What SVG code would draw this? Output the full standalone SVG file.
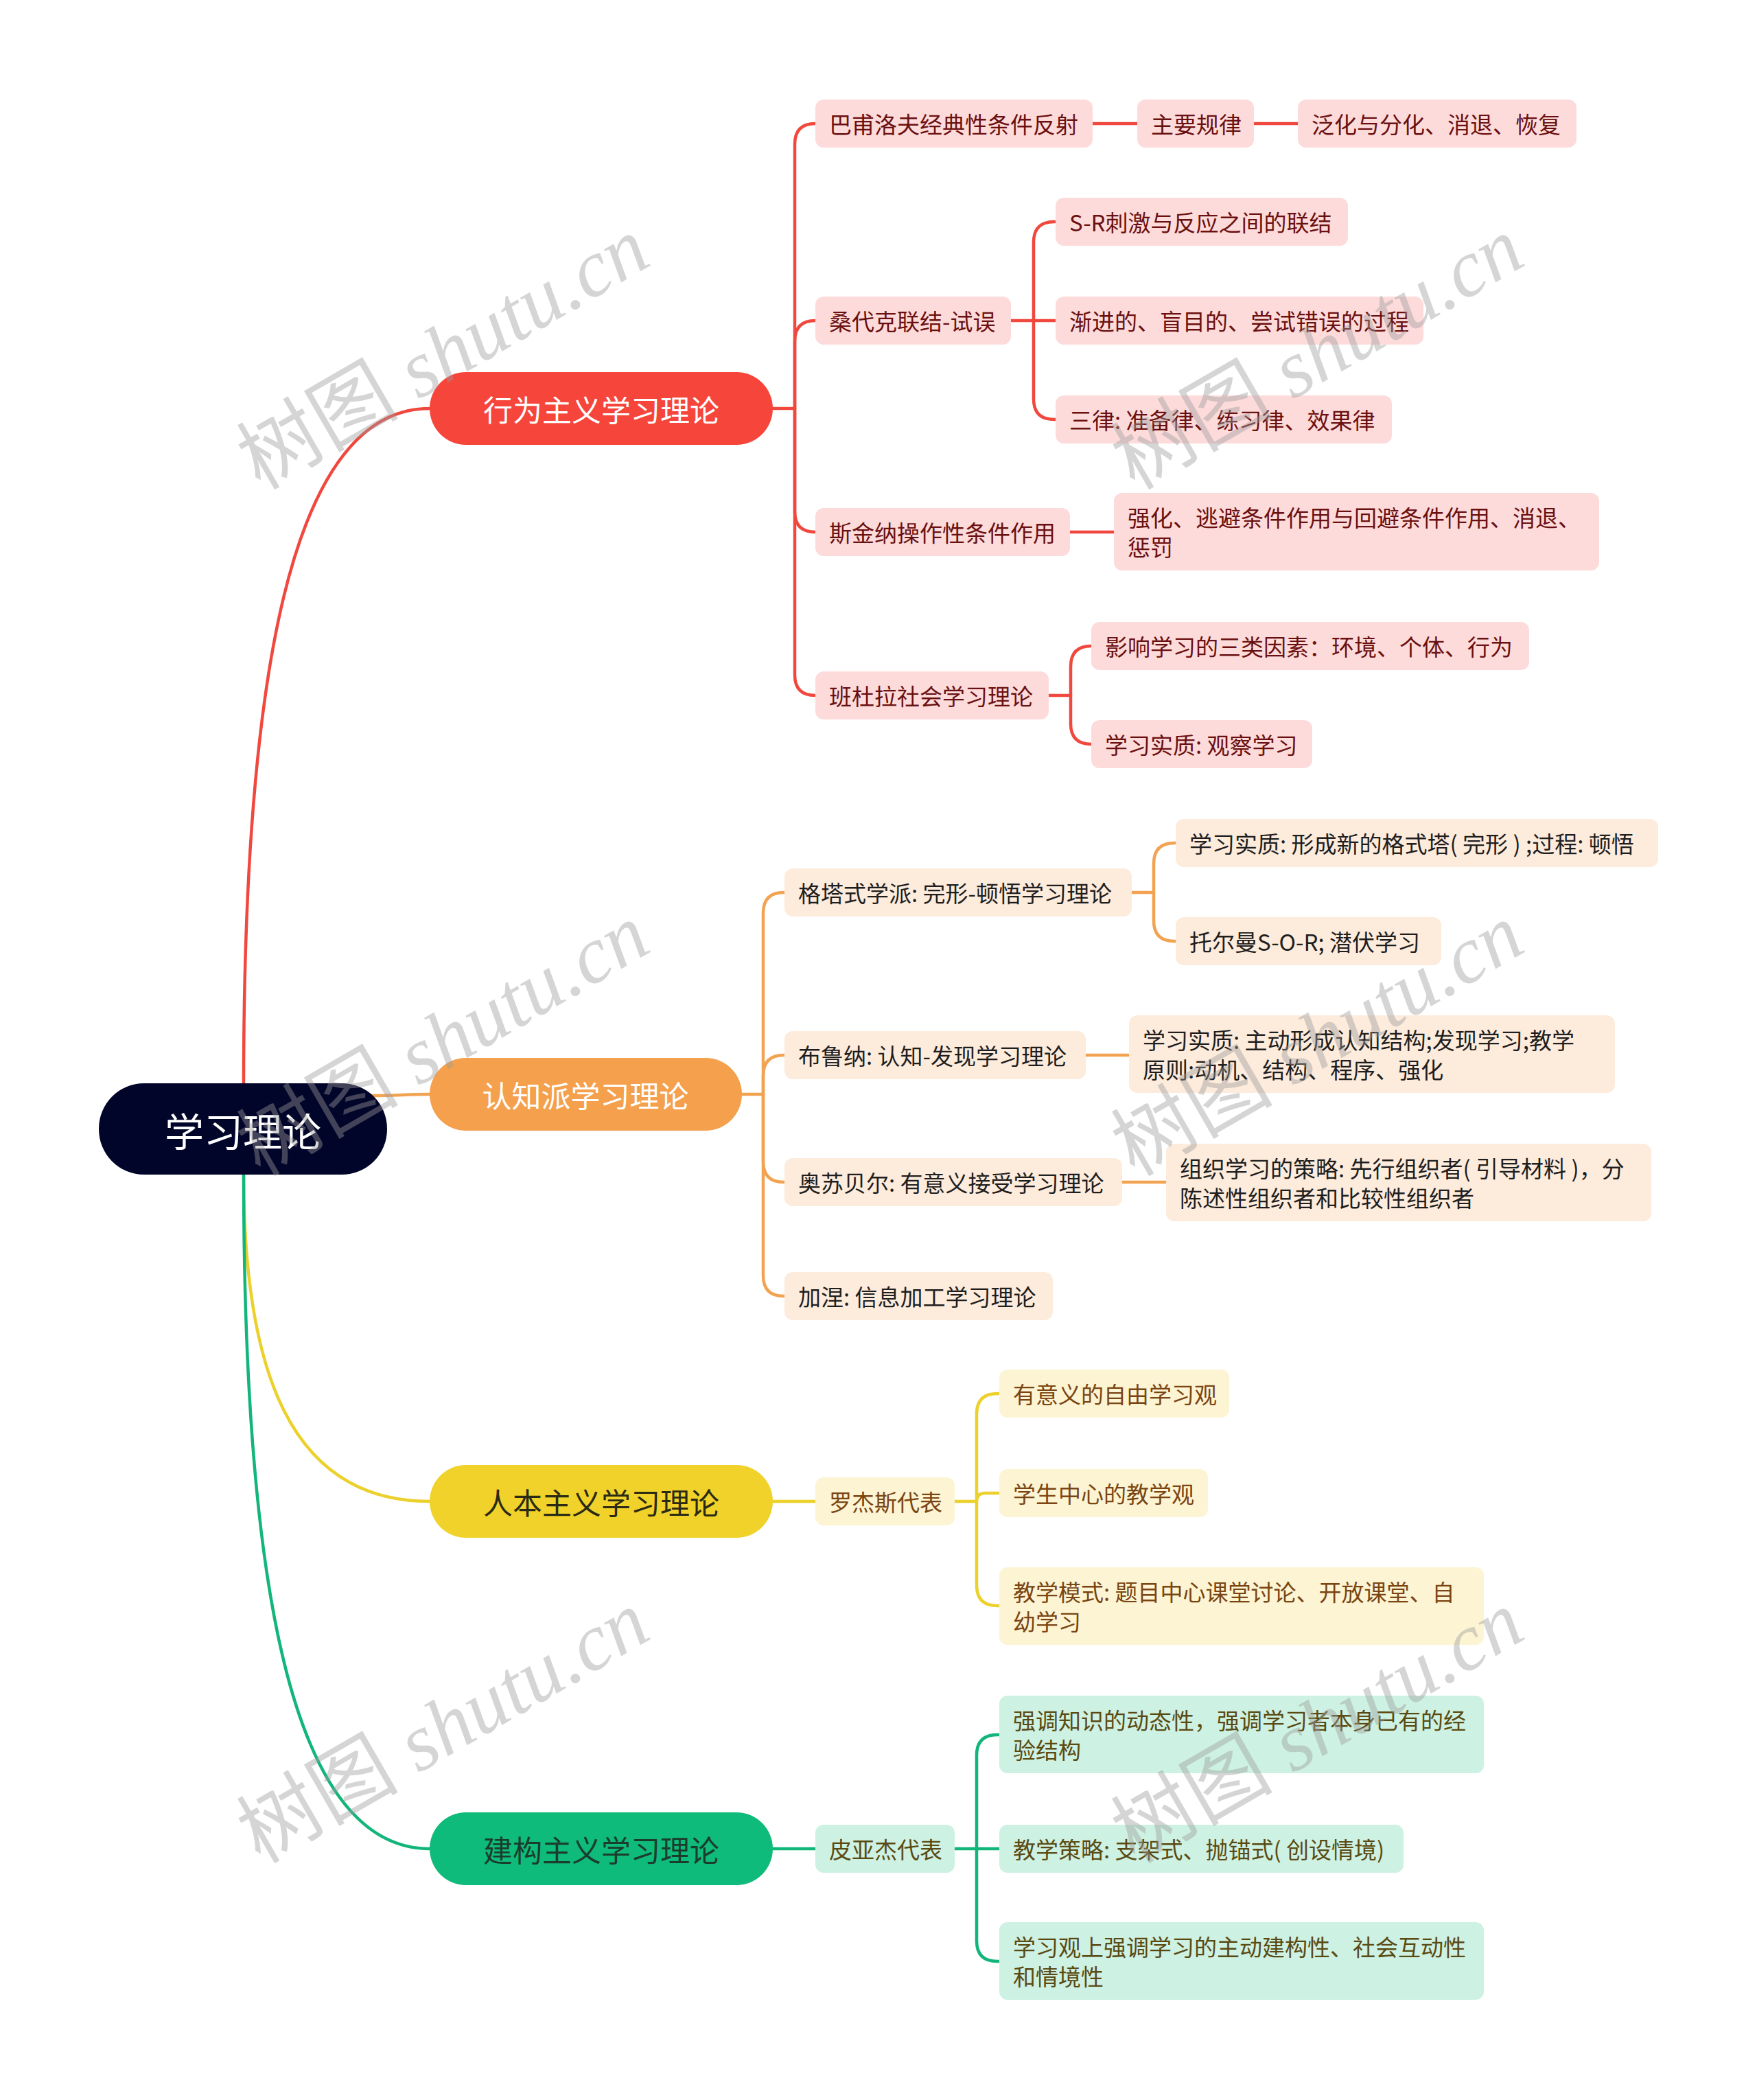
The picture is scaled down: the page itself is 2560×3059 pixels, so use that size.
<svg xmlns="http://www.w3.org/2000/svg" width="2560" height="3059" viewBox="0 0 2560 3059">
<style>
  text { font-family: "Noto Sans CJK SC", "Noto Sans", sans-serif; }
  .c { fill: none; stroke-width: 4.5; stroke-linecap: round; stroke-linejoin: round; }
  .red { stroke: #f0483e; }
  .org { stroke: #f2a352; }
  .yel { stroke: #ecd02c; }
  .grn { stroke: #12b57a; }
  .l2 { font-size: 33px; dominant-baseline: central; }
  .br { font-size: 43px; dominant-baseline: central; text-anchor: middle; }
  .rf { fill: #fddbdb; } .rt { fill: #6b1010; }
  .of { fill: #fdebdc; } .ot { fill: #1e1e1e; }
  .yf { fill: #fcf4d3; } .yt { fill: #7a4512; }
  .gf { fill: #cdf1e2; } .gt { fill: #5a4a12; }
  .wm { font-family: "Liberation Serif", "Noto Sans CJK SC", serif; font-size: 118px; fill: #9a9a9a; fill-opacity: 0.42; text-anchor: middle; }
</style>
<rect width="2560" height="3059" fill="#ffffff"/>

<g id="connectors">
  <!-- root to main branches -->
  <path class="c red" d="M355 1580 C355 1000 420 595 626 595"/>
  <path class="c org" d="M540 1596 C580 1596 590 1594 626 1594"/>
  <path class="c yel" d="M355 1709 C355 1991 420 2187 626 2187"/>
  <path class="c grn" d="M355 1709 C355 2290 420 2693 626 2693"/>

  <!-- behaviorism -->
  <path class="c red" d="M1126 595 H1158"/>
  <path class="c red" d="M1158 595 V210 Q1158 180 1188 180"/>
  <path class="c red" d="M1158 595 V497 Q1158 467 1188 467"/>
  <path class="c red" d="M1158 595 V745 Q1158 775 1188 775"/>
  <path class="c red" d="M1158 595 V983 Q1158 1013 1188 1013"/>
  <path class="c red" d="M1592 180 H1657"/>
  <path class="c red" d="M1827 180 H1891"/>
  <path class="c red" d="M1473 467 H1538"/>
  <path class="c red" d="M1506 467 V353 Q1506 323 1536 323 H1538"/>
  <path class="c red" d="M1506 467 V581 Q1506 611 1536 611 H1538"/>
  <path class="c red" d="M1559 775 H1623"/>
  <path class="c red" d="M1528 1013 H1560"/>
  <path class="c red" d="M1560 1013 V971 Q1560 941 1590 941"/>
  <path class="c red" d="M1560 1013 V1054 Q1560 1084 1590 1084"/>

  <!-- cognitive -->
  <path class="c org" d="M1081 1594 H1112"/>
  <path class="c org" d="M1112 1594 V1330 Q1112 1300 1142 1300 H1143"/>
  <path class="c org" d="M1112 1594 V1567 Q1112 1537 1142 1537 H1143"/>
  <path class="c org" d="M1112 1594 V1692 Q1112 1722 1142 1722 H1143"/>
  <path class="c org" d="M1112 1594 V1858 Q1112 1888 1142 1888 H1143"/>
  <path class="c org" d="M1649 1300 H1681"/>
  <path class="c org" d="M1681 1300 V1258 Q1681 1228 1711 1228 H1713"/>
  <path class="c org" d="M1681 1300 V1341 Q1681 1371 1711 1371 H1713"/>
  <path class="c org" d="M1582 1537 H1645"/>
  <path class="c org" d="M1635 1722 H1699"/>

  <!-- humanism -->
  <path class="c yel" d="M1126 2187 H1188"/>
  <path class="c yel" d="M1391 2187 H1423"/>
  <path class="c yel" d="M1423 2187 V2060 Q1423 2030 1453 2030 H1456"/>
  <path class="c yel" d="M1423 2187 Q1423 2175 1435 2175 H1456"/>
  <path class="c yel" d="M1423 2187 V2309 Q1423 2339 1453 2339 H1456"/>

  <!-- constructivism -->
  <path class="c grn" d="M1126 2693 H1188"/>
  <path class="c grn" d="M1391 2693 H1456"/>
  <path class="c grn" d="M1423 2693 V2557 Q1423 2527 1453 2527 H1456"/>
  <path class="c grn" d="M1423 2693 V2827 Q1423 2857 1453 2857 H1456"/>
</g>

<g id="root">
  <rect x="144" y="1578" width="420" height="133" rx="66" fill="#02052a"/>
  <text x="354" y="1645" font-size="57" fill="#ffffff" text-anchor="middle" dominant-baseline="central">学习理论</text>
</g>

<g id="b-behaviorism">
  <rect x="626" y="542" width="500" height="106" rx="53" fill="#f6453b"/>
  <text class="br" x="876" y="595" fill="#ffffff">行为主义学习理论</text>
</g>
<g id="b-cognitive">
  <rect x="626" y="1541" width="455" height="106" rx="53" fill="#f4a04c"/>
  <text class="br" x="853" y="1594" fill="#ffffff">认知派学习理论</text>
</g>
<g id="b-humanism">
  <rect x="626" y="2134" width="500" height="106" rx="53" fill="#f0d22a"/>
  <text class="br" x="876" y="2187" fill="#2b2a14">人本主义学习理论</text>
</g>
<g id="b-constructivism">
  <rect x="626" y="2640" width="500" height="106" rx="53" fill="#0fbb7a"/>
  <text class="br" x="876" y="2693" fill="#1a3d2d">建构主义学习理论</text>
</g>

<!-- behaviorism children -->
<g id="n-pavlov"><rect class="rf" x="1188" y="145" width="404" height="70" rx="12"/><text class="l2 rt" x="1208" y="180">巴甫洛夫经典性条件反射</text></g>
<g id="n-pavlov-law"><rect class="rf" x="1657" y="145" width="170" height="70" rx="12"/><text class="l2 rt" x="1677" y="180">主要规律</text></g>
<g id="n-pavlov-law-1"><rect class="rf" x="1891" y="145" width="406" height="70" rx="12"/><text class="l2 rt" x="1911" y="180">泛化与分化、消退、恢复</text></g>
<g id="n-thorndike"><rect class="rf" x="1188" y="432" width="285" height="70" rx="12"/><text class="l2 rt" x="1208" y="467">桑代克联结-试误</text></g>
<g id="n-thorndike-1"><rect class="rf" x="1538" y="288" width="426" height="70" rx="12"/><text class="l2 rt" x="1558" y="323">S-R刺激与反应之间的联结</text></g>
<g id="n-thorndike-2"><rect class="rf" x="1538" y="432" width="536" height="70" rx="12"/><text class="l2 rt" x="1558" y="467">渐进的、盲目的、尝试错误的过程</text></g>
<g id="n-thorndike-3"><rect class="rf" x="1538" y="576" width="490" height="70" rx="12"/><text class="l2 rt" x="1558" y="611">三律: 准备律、练习律、效果律</text></g>
<g id="n-skinner"><rect class="rf" x="1188" y="740" width="371" height="70" rx="12"/><text class="l2 rt" x="1208" y="775">斯金纳操作性条件作用</text></g>
<g id="n-skinner-1"><rect class="rf" x="1623" y="718" width="707" height="113" rx="12"/><text class="l2 rt" x="1643" y="753">强化、逃避条件作用与回避条件作用、消退、</text><text class="l2 rt" x="1643" y="796">惩罚</text></g>
<g id="n-bandura"><rect class="rf" x="1188" y="978" width="340" height="70" rx="12"/><text class="l2 rt" x="1208" y="1013">班杜拉社会学习理论</text></g>
<g id="n-bandura-1"><rect class="rf" x="1590" y="906" width="638" height="70" rx="12"/><text class="l2 rt" x="1610" y="941">影响学习的三类因素：环境、个体、行为</text></g>
<g id="n-bandura-2"><rect class="rf" x="1590" y="1049" width="322" height="70" rx="12"/><text class="l2 rt" x="1610" y="1084">学习实质: 观察学习</text></g>

<!-- cognitive children -->
<g id="n-gestalt"><rect class="of" x="1143" y="1265" width="506" height="70" rx="12"/><text class="l2 ot" x="1163" y="1300">格塔式学派: 完形-顿悟学习理论</text></g>
<g id="n-gestalt-1"><rect class="of" x="1713" y="1193" width="703" height="70" rx="12"/><text class="l2 ot" x="1733" y="1228">学习实质: 形成新的格式塔( 完形 ) ;过程: 顿悟</text></g>
<g id="n-gestalt-2"><rect class="of" x="1713" y="1336" width="387" height="70" rx="12"/><text class="l2 ot" x="1733" y="1371">托尔曼S-O-R; 潜伏学习</text></g>
<g id="n-bruner"><rect class="of" x="1143" y="1502" width="439" height="70" rx="12"/><text class="l2 ot" x="1163" y="1537">布鲁纳: 认知-发现学习理论</text></g>
<g id="n-bruner-1"><rect class="of" x="1645" y="1479" width="708" height="113" rx="12"/><text class="l2 ot" x="1665" y="1514">学习实质: 主动形成认知结构;发现学习;教学</text><text class="l2 ot" x="1665" y="1557">原则:动机、结构、程序、强化</text></g>
<g id="n-ausubel"><rect class="of" x="1143" y="1687" width="492" height="70" rx="12"/><text class="l2 ot" x="1163" y="1722">奥苏贝尔: 有意义接受学习理论</text></g>
<g id="n-ausubel-1"><rect class="of" x="1699" y="1666" width="707" height="113" rx="12"/><text class="l2 ot" x="1719" y="1701">组织学习的策略: 先行组织者( 引导材料 )，分</text><text class="l2 ot" x="1719" y="1744">陈述性组织者和比较性组织者</text></g>
<g id="n-gagne"><rect class="of" x="1143" y="1853" width="391" height="70" rx="12"/><text class="l2 ot" x="1163" y="1888">加涅: 信息加工学习理论</text></g>

<!-- humanism children -->
<g id="n-rogers"><rect class="yf" x="1188" y="2152" width="203" height="70" rx="12"/><text class="l2 yt" x="1208" y="2187">罗杰斯代表</text></g>
<g id="n-rogers-1"><rect class="yf" x="1456" y="1995" width="335" height="70" rx="12"/><text class="l2 yt" x="1476" y="2030">有意义的自由学习观</text></g>
<g id="n-rogers-2"><rect class="yf" x="1456" y="2140" width="304" height="70" rx="12"/><text class="l2 yt" x="1476" y="2175">学生中心的教学观</text></g>
<g id="n-rogers-3"><rect class="yf" x="1456" y="2283" width="706" height="113" rx="12"/><text class="l2 yt" x="1476" y="2318">教学模式: 题目中心课堂讨论、开放课堂、自</text><text class="l2 yt" x="1476" y="2361">幼学习</text></g>

<!-- constructivism children -->
<g id="n-piaget"><rect class="gf" x="1188" y="2658" width="203" height="70" rx="12"/><text class="l2 gt" x="1208" y="2693">皮亚杰代表</text></g>
<g id="n-piaget-1"><rect class="gf" x="1456" y="2470" width="706" height="113" rx="12"/><text class="l2 gt" x="1476" y="2505">强调知识的动态性，强调学习者本身已有的经</text><text class="l2 gt" x="1476" y="2548">验结构</text></g>
<g id="n-piaget-2"><rect class="gf" x="1456" y="2658" width="589" height="70" rx="12"/><text class="l2 gt" x="1476" y="2693">教学策略: 支架式、抛锚式( 创设情境)</text></g>
<g id="n-piaget-3"><rect class="gf" x="1456" y="2800" width="706" height="113" rx="12"/><text class="l2 gt" x="1476" y="2835">学习观上强调学习的主动建构性、社会互动性</text><text class="l2 gt" x="1476" y="2878">和情境性</text></g>

<g id="watermarks">
  <text class="wm" transform="translate(646 515) rotate(-30)" dominant-baseline="central">树图 <tspan font-style="italic">shutu.cn</tspan></text>
  <text class="wm" transform="translate(1920 515) rotate(-30)" dominant-baseline="central">树图 <tspan font-style="italic">shutu.cn</tspan></text>
  <text class="wm" transform="translate(646 1515) rotate(-30)" dominant-baseline="central">树图 <tspan font-style="italic">shutu.cn</tspan></text>
  <text class="wm" transform="translate(1920 1515) rotate(-30)" dominant-baseline="central">树图 <tspan font-style="italic">shutu.cn</tspan></text>
  <text class="wm" transform="translate(646 2516) rotate(-30)" dominant-baseline="central">树图 <tspan font-style="italic">shutu.cn</tspan></text>
  <text class="wm" transform="translate(1920 2516) rotate(-30)" dominant-baseline="central">树图 <tspan font-style="italic">shutu.cn</tspan></text>
</g>
</svg>
